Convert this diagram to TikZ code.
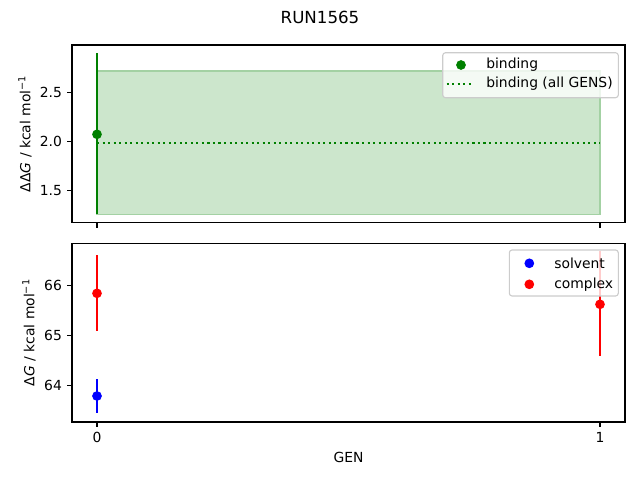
\documentclass[tikz,border=0pt]{standalone}
\usepackage{fontspec}
\setmainfont{DejaVu Sans}
\usetikzlibrary{positioning}
\definecolor{mplgreen}{RGB}{0,128,0}
\definecolor{fillgreen}{RGB}{204,230,204}
\definecolor{filledge}{RGB}{163,209,163}
\definecolor{legedge}{RGB}{204,204,204}

\begin{document}
\begin{tikzpicture}[x=0.72pt,y=-0.72pt,
    dot/.style={circle,inner sep=0pt,minimum size=7pt},
    bar/.style={line width=1.5pt},
    frame/.style={line width=0.8pt},
    lab/.style={font=\fontsize{10}{12}\selectfont,inner sep=0pt},
    legbox/.style={draw=legedge,fill=white,fill opacity=0.8,rounded corners=2pt,line width=0.8pt}]
  \useasboundingbox (0,0) rectangle (640,480);
  \node[font=\fontsize{12}{14}\selectfont] (title) at (320,17) {RUN1565};

  \begin{scope}
    \filldraw[fill=fillgreen,draw=filledge,line width=1pt] (97,71) rectangle (600,214.3);
    \coordinate (avgl) at (97,142.7);
    \coordinate (avgr) at (600,142.7);
    \draw[mplgreen,line width=1.5pt,dash pattern=on 1.5pt off 2.475pt] (avgl) -- (avgr);
    \coordinate (b0top) at (97,53.3);
    \coordinate (b0bot) at (97,214.3);
    \draw[bar,mplgreen] (b0top) -- (b0bot);
    \node[dot,fill=mplgreen] (b0) at (97,134.3) {};

    \draw[frame] (72,45) rectangle (625,222.7);
    \draw[frame] (72,92.3) -- (67.1,92.3);
    \draw[frame] (72,141.7) -- (67.1,141.7);
    \draw[frame] (72,190.7) -- (67.1,190.7);
    \draw[frame] (97,222.7) -- (97,227.6);
    \draw[frame] (600,222.7) -- (600,227.6);
    \node[lab,anchor=east] (t25) at (62.2,92.3) {2.5};
    \node[lab,anchor=east] (t20) at (62.2,141.7) {2.0};
    \node[lab,anchor=east] (t15) at (62.2,190.7) {1.5};
    \node[lab,rotate=90] (ylabtop) at (25,133.8) {ΔΔ\textit{G} / kcal mol\textsuperscript{−1}};

    \draw[legbox] (442.7,52.7) rectangle (618.3,97.7);
    \node[dot,fill=mplgreen] (legb) at (461,65) {};
    \node[lab,anchor=west] (legbtext) at (486,65) {binding};
    \coordinate (legal) at (446.7,84);
    \coordinate (legar) at (470.7,84);
    \draw[mplgreen,line width=1.5pt,dash pattern=on 1.5pt off 2.475pt] (legal) -- (legar);
    \node[lab,anchor=west] (legatext) at (486,84) {binding (all GENS)};
  \end{scope}

  \begin{scope}
    \coordinate (s0top) at (97,379.3);
    \coordinate (s0bot) at (97,413.3);
    \draw[bar,blue] (s0top) -- (s0bot);
    \node[dot,fill=blue] (s0) at (97,396) {};
    \coordinate (c0top) at (97,255);
    \coordinate (c0bot) at (97,330.7);
    \draw[bar,red] (c0top) -- (c0bot);
    \node[dot,fill=red] (c0) at (97,293.3) {};
    \coordinate (c1top) at (600,250.7);
    \coordinate (c1bot) at (600,355.7);
    \draw[bar,red] (c1top) -- (c1bot);
    \node[dot,fill=red] (c1) at (600,304.3) {};

    \draw[frame] (72,243.3) rectangle (625,422);
    \draw[frame] (72,285.3) -- (67.1,285.3);
    \draw[frame] (72,335.3) -- (67.1,335.3);
    \draw[frame] (72,385.3) -- (67.1,385.3);
    \draw[frame] (97,422) -- (97,426.9);
    \draw[frame] (600,422) -- (600,426.9);
    \node[lab,anchor=east] (t66) at (62.2,285.3) {66};
    \node[lab,anchor=east] (t65) at (62.2,335.3) {65};
    \node[lab,anchor=east] (t64) at (62.2,385.3) {64};
    \node[lab,anchor=north] (tx0) at (97,431.8) {0};
    \node[lab,anchor=north] (tx1) at (600,431.8) {1};
    \node[lab,rotate=90] (ylabbot) at (29,332.6) {Δ\textit{G} / kcal mol\textsuperscript{−1}};
    \node[lab] (xlab) at (348.5,457) {GEN};

    \draw[legbox] (509.3,250) rectangle (618.3,296);
    \node[dot,fill=blue] (legs) at (529.3,263.3) {};
    \node[lab,anchor=west] (legstext) at (554,263.3) {solvent};
    \node[dot,fill=red] (legc) at (529.3,284.3) {};
    \node[lab,anchor=west] (legctext) at (554,284.3) {complex};
  \end{scope}
\end{tikzpicture}
\end{document}
